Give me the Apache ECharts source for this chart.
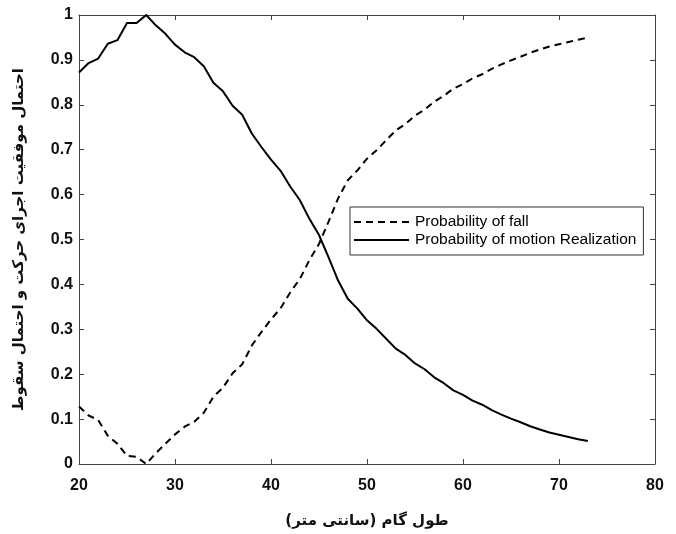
<!DOCTYPE html>
<html>
<head>
<meta charset="utf-8">
<script src="https://cdn.jsdelivr.net/npm/echarts@6/dist/echarts.min.js"></script>
<style>
  html, body { margin: 0; padding: 0; background: #fff; }
  #chart { width: 676px; height: 534px; }
</style>
</head>
<body>
<div id="chart"></div>
<script>
// Step length in centimetres
const stepLength = [
  20, 21, 22, 23, 24, 25, 26, 27, 28, 29,
  30, 31, 32, 33, 34, 35, 36, 37, 38, 39,
  40, 41, 42, 43, 44, 45, 46, 47, 48, 49,
  50, 51, 52, 53, 54, 55, 56, 57, 58, 59,
  60, 61, 62, 63, 64, 65, 66, 67, 68, 69,
  70, 71, 72, 73
];

// Probability of fall (dashed)
const fallProbability = [
  0.128, 0.108, 0.098, 0.063, 0.045, 0.018, 0.016, 0.000, 0.024, 0.045,
  0.066, 0.083, 0.094, 0.114, 0.150, 0.170, 0.202, 0.222, 0.264, 0.294,
  0.322, 0.347, 0.382, 0.412, 0.454, 0.490, 0.540, 0.592, 0.632, 0.654,
  0.680, 0.699, 0.721, 0.743, 0.757, 0.776, 0.789, 0.807, 0.820, 0.836,
  0.846, 0.859, 0.868, 0.880, 0.890, 0.899, 0.907, 0.916, 0.923, 0.930,
  0.935, 0.940, 0.945, 0.950
];

// Probability of motion realization (solid)
const realizationProbability = [
  0.872, 0.893, 0.903, 0.936, 0.944, 0.982, 0.982, 1.000, 0.977, 0.958,
  0.934, 0.917, 0.906, 0.886, 0.849, 0.830, 0.798, 0.778, 0.736, 0.706,
  0.678, 0.653, 0.618, 0.588, 0.546, 0.510, 0.460, 0.408, 0.368, 0.346,
  0.320, 0.301, 0.279, 0.257, 0.243, 0.224, 0.211, 0.193, 0.180, 0.164,
  0.154, 0.141, 0.132, 0.120, 0.110, 0.101, 0.093, 0.084, 0.077, 0.070,
  0.065, 0.060, 0.055, 0.051
];

const xTicks = { min: 20, max: 80, interval: 10 };
const yTicks = { min: 0, max: 1, interval: 0.1 };

const seriesNames = ['Probability of fall', 'Probability of motion Realization'];
const xAxisTitle = 'طول گام (سانتی متر)';
const yAxisTitle = 'احتمال موفقیت اجرای حرکت و احتمال سقوط';

const pairs = (ys) => stepLength.map((x, i) => [x, ys[i]]);

const frameColor = '#444';
const tickFont = { color: '#111', fontFamily: 'Liberation Sans, Arial, sans-serif', fontSize: 16, fontWeight: 'bold' };

const chart = echarts.init(document.getElementById('chart'), null, { renderer: 'canvas' });

chart.setOption({
  animation: false,
  backgroundColor: '#fff',
  grid: { left: 79, right: 21, top: 15, bottom: 66, containLabel: false },
  legend: {
    orient: 'vertical',
    left: 350,
    top: 207,
    padding: [7, 7, 7, 3],
    itemGap: 2,
    itemWidth: 55,
    itemHeight: 19,
    backgroundColor: '#fff',
    borderColor: '#333',
    borderWidth: 1,
    itemStyle: { opacity: 0 },
    textStyle: { color: '#000', fontFamily: 'Liberation Sans, Arial, sans-serif', fontSize: 15.5, padding: [0, 0, 0, 1] },
    data: seriesNames
  },
  xAxis: [
    {
      type: 'value',
      min: xTicks.min, max: xTicks.max, interval: xTicks.interval,
      name: xAxisTitle,
      nameLocation: 'middle',
      nameGap: 50,
      nameTextStyle: { color: '#111', fontFamily: 'DejaVu Sans', fontSize: 15, fontWeight: 'bold' },
      axisLine: { show: true, onZero: false, lineStyle: { color: frameColor, width: 1 } },
      axisTick: { show: true, inside: true, length: 5, lineStyle: { color: frameColor } },
      axisLabel: Object.assign({ margin: 14 }, tickFont),
      splitLine: { show: false }
    },
    {
      type: 'value',
      position: 'top',
      min: xTicks.min, max: xTicks.max, interval: xTicks.interval,
      axisLine: { show: true, onZero: false, lineStyle: { color: frameColor, width: 1 } },
      axisTick: { show: true, inside: true, length: 5, lineStyle: { color: frameColor } },
      axisLabel: { show: false },
      splitLine: { show: false }
    }
  ],
  yAxis: [
    {
      type: 'value',
      min: yTicks.min, max: yTicks.max, interval: yTicks.interval,
      name: yAxisTitle,
      nameLocation: 'middle',
      nameGap: 52,
      nameRotate: 90,
      nameTextStyle: { color: '#111', fontFamily: 'DejaVu Sans', fontSize: 15, fontWeight: 'bold' },
      axisLine: { show: true, onZero: false, lineStyle: { color: frameColor, width: 1 } },
      axisTick: { show: true, inside: true, length: 5, lineStyle: { color: frameColor } },
      axisLabel: Object.assign({ margin: 6 }, tickFont),
      splitLine: { show: false }
    },
    {
      type: 'value',
      position: 'right',
      min: yTicks.min, max: yTicks.max, interval: yTicks.interval,
      axisLine: { show: true, onZero: false, lineStyle: { color: frameColor, width: 1 } },
      axisTick: { show: true, inside: true, length: 5, lineStyle: { color: frameColor } },
      axisLabel: { show: false },
      splitLine: { show: false }
    }
  ],
  series: [
    {
      name: seriesNames[0],
      type: 'line',
      xAxisIndex: 0, yAxisIndex: 0,
      data: pairs(fallProbability),
      symbol: 'none',
      lineStyle: { color: '#000', width: 2, type: [7, 5] },
      itemStyle: { color: '#000' }
    },
    {
      name: seriesNames[1],
      type: 'line',
      xAxisIndex: 0, yAxisIndex: 0,
      data: pairs(realizationProbability),
      symbol: 'none',
      lineStyle: { color: '#000', width: 2, type: 'solid' },
      itemStyle: { color: '#000' }
    }
  ]
});
</script>
</body>
</html>
